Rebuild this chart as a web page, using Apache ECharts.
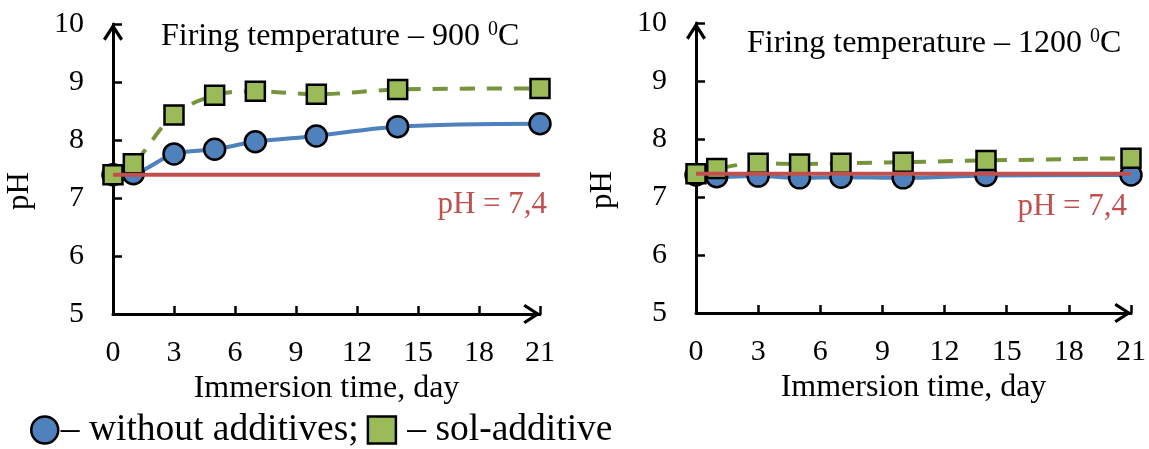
<!DOCTYPE html>
<html>
<head>
<meta charset="utf-8">
<title>pH vs immersion time</title>
<script src="https://cdn.jsdelivr.net/npm/echarts@6/dist/echarts.min.js"></script>
<style>
  html, body { margin: 0; padding: 0; background: #fff; }
  #chart { width: 1149px; height: 449px; }
</style>
</head>
<body>
<div id="chart"></div>
<script>
// data
var days = [0, 1, 3, 5, 7, 10, 14, 21]
var ph900Without = [7.40, 7.42, 7.76, 7.84, 7.97, 8.07, 8.23, 8.28]
var ph900Sol = [7.40, 7.59, 8.43, 8.77, 8.84, 8.79, 8.87, 8.89]
var ph1200Without = [7.38, 7.35, 7.36, 7.33, 7.34, 7.33, 7.37, 7.38]
var ph1200Sol = [7.40, 7.49, 7.58, 7.57, 7.58, 7.60, 7.63, 7.67]
var refPh = 7.4
var refDays = [0, 21]
var xTicks = [0, 3, 6, 9, 12, 15, 18, 21]
var yTicks = [5, 6, 7, 8, 9, 10]

var nameWithout = '– without additives;'
var nameSol = ' – sol-additive'

var serif = '"Liberation Serif", "DejaVu Serif", serif'
var blue = '#4F81BD'
var green = '#9BBB59'
var greenLine = '#77933C'
var red = '#C0504D'

// open chevron for the axis ends (points up, echarts turns it)
var arrow = 'path://M10 0 L20 15.5 L17.4 17.3 L10 5.8 L2.6 17.3 L0 15.5 Z'

function pairs(xs, ys) {
  return xs.map(function (x, i) { return [x, ys[i]] })
}

function xAxis(gridIndex) {
  return {
    type: 'value',
    gridIndex: gridIndex,
    min: xTicks[0],
    max: xTicks[xTicks.length - 1],
    interval: 3,
    name: 'Immersion time, day',
    nameLocation: 'middle',
    nameGap: 50,
    nameTextStyle: { color: '#000', fontFamily: serif, fontSize: 32 },
    axisLine: {
      onZero: false,
      symbol: ['none', arrow],
      symbolSize: [20, 17.3],
      symbolOffset: [0, -8],
      lineStyle: { color: '#000', width: 3 }
    },
    axisTick: { inside: true, length: 8, lineStyle: { color: '#000', width: 2.5 } },
    axisLabel: { color: '#000', fontFamily: serif, fontSize: 30, margin: 24 },
    splitLine: { show: false }
  }
}

function yAxis(gridIndex) {
  return {
    type: 'value',
    gridIndex: gridIndex,
    min: yTicks[0],
    max: yTicks[yTicks.length - 1],
    interval: 1,
    name: 'pH',
    nameLocation: 'middle',
    nameGap: 78,
    nameTextStyle: { color: '#000', fontFamily: serif, fontSize: 31, padding: [0, 44, 0, 0] },
    axisLine: {
      onZero: false,
      symbol: ['none', arrow],
      symbolSize: [20, 17.3],
      symbolOffset: [0, -8],
      lineStyle: { color: '#000', width: 3 }
    },
    axisTick: { inside: true, length: 9, lineStyle: { color: '#000', width: 2.5 } },
    axisLabel: { color: '#000', fontFamily: serif, fontSize: 30, margin: 29 },
    splitLine: { show: false }
  }
}

function withoutSeries(idx, values) {
  return {
    name: nameWithout,
    type: 'line',
    xAxisIndex: idx,
    yAxisIndex: idx,
    data: pairs(days, values),
    smooth: 0.35,
    clip: false,
    symbol: 'circle',
    symbolSize: 21,
    lineStyle: { color: blue, width: 4 },
    itemStyle: { color: blue, borderColor: '#000', borderWidth: 2.5 },
    z: 2
  }
}

function solSeries(idx, values) {
  return {
    name: nameSol,
    type: 'line',
    xAxisIndex: idx,
    yAxisIndex: idx,
    data: pairs(days, values),
    smooth: 0.35,
    clip: false,
    symbol: 'rect',
    symbolSize: 19,
    lineStyle: { color: greenLine, width: 4, type: [15, 12] },
    itemStyle: { color: green, borderColor: '#000', borderWidth: 2.5 },
    z: 3
  }
}

function refSeries(idx) {
  return {
    name: 'pH = 7,4',
    type: 'line',
    xAxisIndex: idx,
    yAxisIndex: idx,
    data: pairs(refDays, refDays.map(function () { return refPh })),
    symbol: 'none',
    clip: false,
    lineStyle: { color: red, width: 4 },
    z: 4
  }
}

var titleRich = {
  t: { color: '#000', fontFamily: serif, fontSize: 32, fontWeight: 'normal', lineHeight: 35 },
  s: { color: '#000', fontFamily: serif, fontSize: 20, fontWeight: 'normal', lineHeight: 35,
       verticalAlign: 'top', padding: [1, 0, 0, 0] }
}

var chart = echarts.init(document.getElementById('chart'))
var option = {
  animation: false,
  backgroundColor: '#fff',
  title: [
    { text: '{t|Firing temperature – 900 }{s|0}{t|C}', left: 161, top: 19, padding: 0,
      textStyle: { rich: titleRich } },
    { text: '{t|Firing temperature – 1200 }{s|0}{t|C}', left: 747, top: 26, padding: 0,
      textStyle: { rich: titleRich } },
    { text: 'pH = 7,4', right: 602, top: 189, padding: 0,
      textStyle: { color: red, fontFamily: serif, fontSize: 31, fontWeight: 'normal' } },
    { text: 'pH = 7,4', right: 22, top: 191, padding: 0,
      textStyle: { color: red, fontFamily: serif, fontSize: 31, fontWeight: 'normal' } }
  ],
  legend: {
    left: 30,
    top: 411,
    padding: 0,
    itemWidth: 28,
    itemHeight: 27,
    itemGap: 8,
    selectedMode: false,
    data: [{ name: nameWithout, icon: 'circle' }, { name: nameSol, icon: 'rect' }],
    itemStyle: { borderColor: '#000', borderWidth: 2.5 },
    textStyle: { color: '#000', fontFamily: serif, fontSize: 37.5, padding: [0, 0, 0, -3] }
  },
  grid: [
    { left: 113, top: 24, width: 427, height: 290 },
    { left: 696, top: 23, width: 436, height: 290 }
  ],
  xAxis: [xAxis(0), xAxis(1)],
  yAxis: [yAxis(0), yAxis(1)],
  series: [
    withoutSeries(0, ph900Without),
    solSeries(0, ph900Sol),
    refSeries(0),
    withoutSeries(1, ph1200Without),
    solSeries(1, ph1200Sol),
    refSeries(1)
  ]
}
chart.setOption(option)

window.addEventListener('resize', function () {
  chart.resize()
})
</script>
</body>
</html>
